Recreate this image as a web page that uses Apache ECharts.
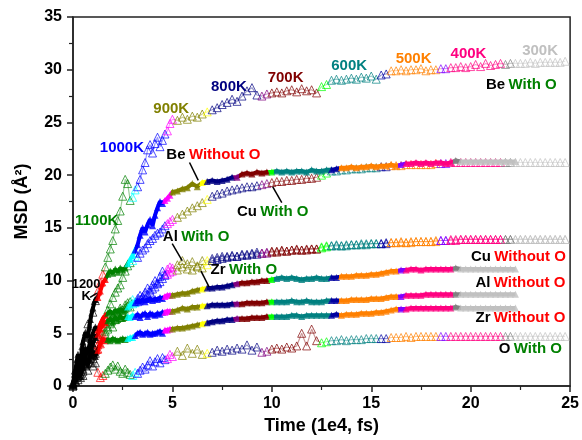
<!DOCTYPE html>
<html>
<head>
<meta charset="utf-8">
<script src="https://cdn.jsdelivr.net/npm/echarts@6/dist/echarts.min.js"></script>
<style>
  html, body { margin: 0; padding: 0; background: #ffffff; }
  #chart { width: 582px; height: 440px; }
</style>
</head>
<body>
<div id="chart"></div>
<script>
// Sampling times (1e4 fs): fine steps during the hot stages, coarser afterwards
const timesEarly = [0, 0.125, 0.25, 0.375, 0.5, 0.625, 0.75, 0.875, 1, 1.125,
  1.25, 1.375, 1.5, 1.625, 1.75, 1.875, 2, 2.125, 2.25, 2.375,
  2.5, 2.625, 2.75, 2.875, 3, 3.125, 3.25, 3.375, 3.5, 3.625,
  3.75, 3.875, 4, 4.125, 4.25, 4.375, 4.5, 4.625, 4.75, 4.875];
const timesLate = [5, 5.25, 5.5, 5.75, 6, 6.25, 6.5, 6.75, 7, 7.25,
  7.5, 7.75, 8, 8.25, 8.5, 8.75, 9, 9.25, 9.5, 9.75,
  10, 10.25, 10.5, 10.75, 11, 11.25, 11.5, 11.75, 12, 12.25,
  12.5, 12.75, 13, 13.25, 13.5, 13.75, 14, 14.25, 14.5, 14.75,
  15, 15.25, 15.5, 15.75, 16, 16.25, 16.5, 16.75, 17, 17.25,
  17.5, 17.75, 18, 18.25, 18.5, 18.75, 19, 19.25, 19.5, 19.75,
  20, 20.25, 20.5, 20.75, 21, 21.25, 21.5, 21.75, 22, 22.25,
  22.5, 22.75, 23, 23.25, 23.5, 23.75, 24, 24.25, 24.5, 24.75];

// Stage colours: temperature holds (1200K ... 300K) alternating with the ramps between them
const stageColors = ['#000000', '#FF0000', '#008000', '#00FFFF', '#0000FF', '#FF00FF',
  '#808000', '#FFFF00', '#000080', '#800080', '#800000', '#00FF00', '#008080', '#0000A0',
  '#FF8000', '#8000FF', '#FF0080', '#808080', '#C0C0C0'];
// Time at which each stage ends (the last stage runs to the end)
const stageEndsWithO = [1.25, 1.6, 2.9, 3.25, 4.75, 5.1, 6.55, 6.9, 9.5, 9.85,
  12.35, 12.8, 15.4, 15.85, 18.5, 18.85, 21.75, 22.1];
const stageEndsWithoutO = [1.25, 1.65, 2.75, 3.1, 4.55, 4.95, 6.4, 6.75, 8.05, 8.35,
  9.8, 10.1, 13.0, 13.4, 16.35, 16.75, 19.1, 19.5];

// MSD (Å²) — samples with O
const beWithOEarly = [0.2, 1.5, 2.6, 2.0, 3.8, 4.6, 5.9, 5.2, 7.0, 8.1,
  9.0, 9.8, 10.6, 11.3, 12.2, 13.0, 13.8, 14.9, 15.7, 16.6,
  18.0, 19.6, 19.2, 17.6, 17.9, 18.6, 18.9, 19.6, 20.5, 21.2,
  22.4, 22.9, 22.1, 23.0, 23.6, 22.7, 23.3, 23.9, 24.2, 24.9];
const beWithOLate = [25.3, 25.2, 25.5, 25.3, 25.6, 25.5, 25.8, 26.0, 26.2, 26.4,
  26.7, 26.9, 27.2, 27.0, 27.5, 28.0, 28.3, 27.6, 27.5, 27.7,
  27.8, 27.9, 27.8, 28.0, 28.1, 27.9, 28.2, 28.0, 28.1, 27.8,
  28.4, 28.6, 29.0, 29.1, 29.0, 29.1, 29.2, 29.1, 29.3, 29.2,
  29.4, 29.1, 29.5, 29.6, 29.9, 29.9, 30.0, 29.9, 30.0, 30.0,
  30.1, 29.9, 30.0, 30.0, 30.1, 30.1, 30.2, 30.2, 30.3, 30.2,
  30.3, 30.5, 30.3, 30.6, 30.4, 30.5, 30.6, 30.5, 30.6, 30.6,
  30.6, 30.6, 30.7, 30.6, 30.7, 30.7, 30.7, 30.7, 30.7, 30.8];

const cuWithOEarly = [0.1, 0.8, 1.4, 1.1, 2.2, 2.6, 3.3, 2.9, 3.9, 4.5,
  4.9, 5.6, 6.2, 6.5, 7.2, 7.8, 8.4, 8.9, 9.3, 9.6,
  10.3, 10.9, 11.4, 11.7, 11.9, 12.3, 12.2, 12.6, 12.9, 13.1,
  13.5, 13.8, 14.0, 14.3, 14.5, 14.6, 14.9, 15.2, 15.4, 15.6];
const cuWithOLate = [15.8, 16.0, 16.3, 16.6, 16.9, 17.1, 17.4, 17.7, 18.0, 18.2,
  18.3, 18.5, 18.6, 18.7, 18.8, 18.9, 18.9, 19.0, 19.1, 19.2,
  19.3, 19.4, 19.4, 19.5, 19.5, 19.6, 19.6, 19.7, 19.7, 19.8,
  20.0, 20.2, 20.4, 20.4, 20.5, 20.5, 20.6, 20.6, 20.6, 20.7,
  20.7, 20.7, 20.8, 20.8, 20.9, 20.9, 20.9, 21.0, 21.0, 21.0,
  21.0, 21.0, 21.0, 21.1, 21.1, 21.1, 21.2, 21.2, 21.2, 21.2,
  21.2, 21.2, 21.2, 21.2, 21.2, 21.2, 21.2, 21.2, 21.2, 21.2,
  21.2, 21.2, 21.2, 21.2, 21.2, 21.2, 21.2, 21.2, 21.2, 21.2];

const alWithOEarly = [0.0, 0.5, 1.0, 0.8, 1.6, 2.1, 2.5, 2.2, 3.0, 3.4,
  3.9, 4.4, 4.9, 5.2, 5.6, 6.1, 6.6, 6.3, 7.0, 7.4,
  7.2, 7.7, 7.9, 8.0, 8.2, 8.0, 8.3, 8.6, 8.5, 8.9,
  9.3, 9.1, 9.6, 10.0, 9.8, 10.4, 10.9, 10.6, 11.1, 11.3];
const alWithOLate = [11.2, 11.5, 11.9, 11.6, 11.8, 11.4, 11.9, 11.9, 12.1, 12.2,
  12.3, 12.3, 12.4, 12.3, 12.5, 12.5, 12.6, 12.7, 12.6, 12.7,
  12.8, 12.8, 12.9, 12.8, 12.9, 13.0, 12.9, 13.0, 13.0, 13.0,
  13.2, 13.3, 13.3, 13.4, 13.3, 13.4, 13.4, 13.4, 13.5, 13.5,
  13.5, 13.5, 13.5, 13.6, 13.6, 13.6, 13.7, 13.6, 13.7, 13.7,
  13.7, 13.7, 13.7, 13.8, 13.8, 13.8, 13.9, 13.9, 13.9, 13.9,
  13.9, 13.9, 13.9, 13.9, 13.9, 13.9, 13.9, 13.9, 13.9, 13.9,
  13.9, 13.9, 13.9, 13.9, 13.9, 13.9, 13.9, 13.9, 13.9, 13.9];

const zrWithOEarly = [0.0, 0.4, 0.9, 1.2, 1.4, 1.9, 2.3, 2.7, 2.6, 3.1,
  3.5, 4.0, 4.6, 4.9, 5.4, 5.9, 5.6, 6.3, 6.8, 6.5,
  7.0, 7.4, 7.6, 7.5, 7.8, 7.9, 8.0, 8.2, 8.4, 8.3,
  8.7, 8.9, 9.2, 9.4, 9.7, 9.9, 10.2, 10.5, 10.6, 10.8];
const zrWithOLate = [10.9, 11.0, 11.3, 11.1, 11.0, 11.3, 11.2, 11.5, 11.9, 12.0,
  12.1, 12.2, 12.3, 12.3, 12.4, 12.4, 12.5, 12.5, 12.6, 12.6,
  12.7, 12.7, 12.8, 12.8, 12.9, 12.9, 12.9, 12.9, 13.0, 13.0,
  13.1, 13.2, 13.3, 13.3, 13.3, 13.3, 13.4, 13.4, 13.4, 13.4,
  13.5, 13.5, 13.5, 13.5, 13.6, 13.6, 13.6, 13.6, 13.6, 13.7,
  13.7, 13.7, 13.7, 13.7, 13.8, 13.8, 13.8, 13.8, 13.9, 13.9,
  13.9, 13.9, 13.9, 13.9, 13.9, 13.9, 13.9, 13.9, 13.9, 13.9,
  13.9, 13.9, 13.9, 13.9, 13.9, 13.9, 13.9, 13.9, 13.9, 13.9];

const oWithOEarly = [0.3, 1.2, 0.6, 1.8, 1.0, 2.4, 1.5, 2.8, 1.9, 2.2,
  1.3, 0.8, 1.0, 1.2, 1.5, 1.8, 2.0, 1.6, 1.9, 1.4,
  1.2, 1.6, 1.3, 1.1, 1.0, 1.3, 1.2, 1.5, 1.8, 1.6,
  2.0, 2.4, 1.9, 2.3, 2.6, 2.2, 2.7, 2.5, 2.6, 3.0];
const oWithOLate = [2.8, 3.3, 2.9, 3.6, 3.1, 3.5, 3.0, 3.1, 3.2, 3.4,
  3.3, 3.5, 3.4, 3.6, 3.5, 3.9, 3.4, 3.7, 3.2, 3.3,
  3.5, 3.6, 3.5, 3.7, 3.6, 3.8, 5.0, 3.8, 5.4, 4.3,
  4.1, 4.2, 4.3, 4.3, 4.4, 4.3, 4.4, 4.4, 4.4, 4.5,
  4.5, 4.5, 4.5, 4.5, 4.6, 4.6, 4.6, 4.7, 4.6, 4.7,
  4.7, 4.7, 4.7, 4.7, 4.7, 4.7, 4.7, 4.7, 4.7, 4.7,
  4.7, 4.7, 4.7, 4.7, 4.7, 4.7, 4.7, 4.7, 4.7, 4.7,
  4.7, 4.7, 4.7, 4.7, 4.7, 4.7, 4.7, 4.7, 4.7, 4.7];

// MSD (Å²) — samples without O (runs end at 22.25)
const beWithoutOEarly = [0.3, 1.6, 3.0, 2.4, 4.2, 5.1, 4.6, 6.3, 7.4, 8.2,
  8.4, 9.0, 9.8, 10.1, 10.6, 10.9, 10.7, 11.1, 10.8, 11.2,
  11.0, 11.2, 11.6, 12.0, 12.4, 12.9, 13.4, 14.3, 15.0, 14.6,
  15.3, 15.8, 15.2, 16.2, 16.9, 17.5, 17.3, 17.6, 17.8, 18.1];
const beWithoutOLate = [18.4, 18.5, 18.7, 18.8, 19.2, 18.9, 19.3, 19.4, 19.5, 19.4,
  19.5, 19.6, 19.8, 19.8, 20.1, 20.2, 20.1, 20.3, 20.2, 20.3,
  20.3, 20.4, 20.3, 20.4, 20.3, 20.4, 20.4, 20.3, 20.5, 20.4,
  20.4, 20.5, 20.5, 20.6, 20.7, 20.7, 20.8, 20.7, 20.8, 20.8,
  20.9, 20.8, 20.9, 20.9, 21.0, 20.9, 21.0, 21.1, 21.1, 21.2,
  21.1, 21.2, 21.1, 21.2, 21.2, 21.1, 21.2, 21.4, 21.3, 21.3,
  21.3, 21.3, 21.3, 21.3, 21.3, 21.3, 21.3, 21.3, 21.3, 21.3];

const cuWithoutOEarly = [0.2, 1.1, 2.2, 1.7, 3.0, 3.6, 3.2, 4.4, 5.0, 5.6,
  5.3, 5.9, 6.4, 6.7, 6.9, 7.1, 6.8, 7.2, 7.0, 7.3,
  7.1, 7.2, 7.5, 7.7, 7.9, 7.9, 8.1, 8.0, 8.2, 8.0,
  8.2, 8.3, 8.1, 8.3, 8.2, 8.4, 8.3, 8.5, 8.6, 8.6];
const cuWithoutOLate = [8.6, 8.7, 8.8, 8.8, 9.0, 9.1, 9.2, 9.3, 9.3, 9.4,
  9.4, 9.5, 9.6, 9.7, 9.8, 9.8, 9.9, 9.9, 10.0, 10.0,
  10.1, 10.2, 10.3, 10.2, 10.3, 10.2, 10.1, 10.2, 10.2, 10.3,
  10.2, 10.2, 10.3, 10.3, 10.4, 10.4, 10.4, 10.5, 10.5, 10.5,
  10.6, 10.6, 10.7, 10.8, 10.9, 10.9, 11.0, 11.0, 11.1, 11.1,
  11.0, 11.1, 11.1, 11.1, 11.1, 11.1, 11.1, 11.2, 11.1, 11.1,
  11.1, 11.1, 11.1, 11.1, 11.1, 11.1, 11.1, 11.1, 11.1, 11.1];

const alWithoutOEarly = [0.1, 0.8, 1.5, 2.3, 1.9, 2.8, 3.5, 3.1, 4.0, 4.6,
  4.9, 5.4, 5.8, 6.0, 6.2, 6.4, 6.1, 6.5, 6.3, 6.6,
  6.4, 6.5, 6.6, 6.5, 6.7, 6.6, 6.8, 6.5, 6.8, 6.9,
  6.6, 6.9, 6.8, 6.7, 6.9, 6.8, 7.0, 7.0, 7.1, 7.1];
const alWithoutOLate = [7.1, 7.2, 7.4, 7.3, 7.5, 7.5, 7.6, 7.6, 7.7, 7.7,
  7.7, 7.7, 7.8, 7.8, 7.8, 7.9, 7.9, 7.9, 7.9, 8.0,
  8.0, 8.0, 8.0, 8.0, 8.1, 8.0, 8.0, 8.1, 8.0, 8.0,
  8.0, 8.1, 8.1, 8.1, 8.1, 8.1, 8.2, 8.2, 8.2, 8.2,
  8.3, 8.3, 8.3, 8.4, 8.5, 8.5, 8.5, 8.6, 8.6, 8.6,
  8.6, 8.7, 8.7, 8.7, 8.7, 8.7, 8.7, 8.7, 8.7, 8.7,
  8.7, 8.7, 8.7, 8.7, 8.7, 8.7, 8.7, 8.7, 8.7, 8.7];

const zrWithoutOEarly = [0.0, 0.5, 1.2, 0.9, 1.8, 2.4, 2.0, 2.9, 3.3, 2.8,
  3.4, 4.0, 4.5, 4.3, 4.4, 4.3, 4.5, 4.4, 4.3, 4.4,
  4.5, 4.4, 4.5, 4.6, 4.6, 4.8, 5.0, 5.1, 4.9, 5.0,
  5.1, 4.9, 5.0, 5.0, 5.1, 5.2, 5.0, 5.3, 5.3, 5.4];
const zrWithoutOLate = [5.4, 5.5, 5.5, 5.6, 5.7, 5.8, 5.9, 6.0, 6.1, 6.2,
  6.2, 6.3, 6.3, 6.4, 6.4, 6.4, 6.5, 6.5, 6.5, 6.6,
  6.6, 6.6, 6.6, 6.6, 6.7, 6.7, 6.6, 6.7, 6.7, 6.7,
  6.7, 6.7, 6.7, 6.8, 6.7, 6.8, 6.8, 6.8, 6.9, 6.9,
  6.9, 7.0, 7.0, 7.1, 7.2, 7.3, 7.3, 7.3, 7.4, 7.4,
  7.4, 7.4, 7.4, 7.4, 7.4, 7.4, 7.4, 7.5, 7.4, 7.4,
  7.4, 7.4, 7.4, 7.4, 7.4, 7.4, 7.4, 7.4, 7.4, 7.4];

// Temperature tags along the Be-with-O run: [text, colour, time, MSD]
const tempLabels = [
  ['1100K', '#008000', 1.19, 15.7],
  ['1000K', '#0000FF', 2.46, 22.55],
  ['900K', '#808000', 4.94, 26.33],
  ['800K', '#000080', 7.84, 28.36],
  ['700K', '#800000', 10.69, 29.26],
  ['600K', '#008080', 13.89, 30.4],
  ['500K', '#FF8000', 17.13, 31.06],
  ['400K', '#FF0080', 19.89, 31.54],
  ['300K', '#C0C0C0', 23.49, 31.82]
];
// Curve names: [element, condition, time, MSD]
const curveLabels = [
  ['Be', 'With O', 22.55, 28.6],
  ['Be', 'Without O', 7.06, 21.88],
  ['Cu', 'With O', 10.04, 16.54],
  ['Al', 'With O', 6.19, 14.17],
  ['Zr', 'With O', 8.59, 11.0],
  ['Cu', 'Without O', 22.4, 12.23],
  ['Al', 'Without O', 22.5, 9.77],
  ['Zr', 'Without O', 22.5, 6.45],
  ['O', 'With O', 23.0, 3.53]
];
// Pointer arrows: [fromTime, fromMSD, toTime, toMSD]
const pointers = [
  [0.86, 8.4, 1.2, 8.8],
  [5.86, 21.2, 6.3, 19.5],
  [10.5, 17.4, 10.04, 18.9],
  [4.99, 13.5, 5.49, 11.9],
  [6.84, 9.4, 6.44, 10.9]
];

const FONT = 'Liberation Sans, Arial, sans-serif';

const curves = [
  { name: 'Be With O', early: beWithOEarly, late: beWithOLate, withO: true },
  { name: 'Cu With O', early: cuWithOEarly, late: cuWithOLate, withO: true },
  { name: 'Al With O', early: alWithOEarly, late: alWithOLate, withO: true },
  { name: 'Zr With O', early: zrWithOEarly, late: zrWithOLate, withO: true },
  { name: 'O With O', early: oWithOEarly, late: oWithOLate, withO: true },
  { name: 'Be Without O', early: beWithoutOEarly, late: beWithoutOLate, withO: false },
  { name: 'Cu Without O', early: cuWithoutOEarly, late: cuWithoutOLate, withO: false },
  { name: 'Al Without O', early: alWithoutOEarly, late: alWithoutOLate, withO: false },
  { name: 'Zr Without O', early: zrWithoutOEarly, late: zrWithoutOLate, withO: false }
];

function stageOf(t, ends) {
  let i = 0;
  while (i < ends.length && t >= ends[i]) i++;
  return i;
}

const allTimes = timesEarly.concat(timesLate);

function pointsOf(c) {
  return c.early.concat(c.late).map(function (v, i) { return [allTimes[i], v]; });
}

// Markers, coloured per stage
function markerSeries(c) {
  const ends = c.withO ? stageEndsWithO : stageEndsWithoutO;
  const data = pointsOf(c).map(function (p) {
    const col = stageColors[stageOf(p[0], ends)];
    return {
      value: p,
      itemStyle: c.withO
        ? { color: 'rgba(255,255,255,0)', borderColor: col, borderWidth: 1, opacity: 0.7 }
        : { color: col }
    };
  });
  return {
    name: c.name,
    type: 'scatter',
    symbol: 'triangle',
    symbolSize: c.withO ? 8 : 7,
    z: c.withO ? 3 : 5,
    silent: true,
    data: data
  };
}

// Connecting trace under the markers, coloured by the stage visual maps
function traceSeries(c) {
  return {
    name: c.name + ' trace',
    type: 'line',
    showSymbol: false,
    symbol: 'none',
    silent: true,
    z: c.withO ? 2 : 4,
    lineStyle: c.withO ? { width: 1.2, opacity: 0.4 } : { width: 4 },
    data: pointsOf(c)
  };
}

const series = [];
const traceWithO = [];
const traceWithoutO = [];
curves.forEach(function (c) {
  (c.withO ? traceWithO : traceWithoutO).push(series.length);
  series.push(traceSeries(c));
  series.push(markerSeries(c));
});

function stagePieces(ends) {
  const pieces = [];
  for (let i = 0; i <= ends.length; i++) {
    const p = { color: stageColors[i] };
    if (i > 0) p.gte = ends[i - 1];
    if (i < ends.length) p.lt = ends[i];
    pieces.push(p);
  }
  return pieces;
}

const markPoints = [];
tempLabels.forEach(function (l) {
  markPoints.push({
    coord: [l[2], l[3]],
    label: { formatter: l[0], color: l[1], fontSize: 15, fontWeight: 'bold', fontFamily: FONT }
  });
});
curveLabels.forEach(function (l) {
  const key = l[1] === 'With O' ? 'g' : 'r';
  markPoints.push({
    coord: [l[2], l[3]],
    label: {
      formatter: '{k|' + l[0] + '} {' + key + '|' + l[1] + '}',
      rich: {
        k: { color: '#000000', fontSize: 15, fontWeight: 'bold', fontFamily: FONT },
        g: { color: '#008000', fontSize: 15, fontWeight: 'bold', fontFamily: FONT },
        r: { color: '#FF0000', fontSize: 15, fontWeight: 'bold', fontFamily: FONT }
      }
    }
  });
});
markPoints.push({
  coord: [0.66, 9.1],
  label: { formatter: '1200\nK', color: '#000000', fontSize: 13, lineHeight: 12, fontWeight: 'bold', fontFamily: FONT }
});

series.push({
  name: 'notes',
  type: 'scatter',
  data: [],
  silent: true,
  z: 10,
  markPoint: {
    symbol: 'circle',
    symbolSize: 1,
    itemStyle: { color: 'rgba(0,0,0,0)' },
    label: { show: true, position: 'inside' },
    data: markPoints,
    z: 10
  },
  markLine: {
    symbol: ['none', 'arrow'],
    symbolSize: [0, 12],
    lineStyle: { color: '#000000', width: 1.5, type: 'solid' },
    label: { show: false },
    data: pointers.map(function (p) {
      return [{ coord: [p[0], p[1]] }, { coord: [p[2], p[3]] }];
    }),
    z: 10
  }
});

const chart = echarts.init(document.getElementById('chart'), null, { renderer: 'canvas' });
chart.setOption({
  animation: false,
  backgroundColor: '#ffffff',
  visualMap: [
    { type: 'piecewise', show: false, dimension: 0, seriesIndex: traceWithO, pieces: stagePieces(stageEndsWithO) },
    { type: 'piecewise', show: false, dimension: 0, seriesIndex: traceWithoutO, pieces: stagePieces(stageEndsWithoutO) }
  ],
  grid: {
    left: 73, right: 10, top: 17, bottom: 53,
    show: true, borderColor: '#222222', borderWidth: 1.5, backgroundColor: 'transparent'
  },
  xAxis: {
    type: 'value', min: 0, max: 25, interval: 5,
    name: 'Time (1e4, fs)', nameLocation: 'middle', nameGap: 31,
    nameTextStyle: { fontSize: 18, fontWeight: 'bold', color: '#000', fontFamily: FONT },
    axisLine: { show: true, onZero: false, lineStyle: { color: '#222222', width: 1.5 } },
    axisTick: { show: true, inside: false, length: 6, lineStyle: { color: '#222222', width: 1.5 } },
    minorTick: { show: true, splitNumber: 2, length: 4, lineStyle: { color: '#222222', width: 1.2 } },
    axisLabel: { fontSize: 16, fontWeight: 'bold', color: '#000', fontFamily: FONT, margin: 10 },
    splitLine: { show: false }
  },
  yAxis: {
    type: 'value', min: 0, max: 35, interval: 5,
    name: 'MSD (Å²)', nameLocation: 'middle', nameGap: 42,
    nameTextStyle: { fontSize: 18, fontWeight: 'bold', color: '#000', fontFamily: FONT },
    axisLine: { show: true, onZero: false, lineStyle: { color: '#222222', width: 1.5 } },
    axisTick: { show: true, inside: false, length: 6, lineStyle: { color: '#222222', width: 1.5 } },
    minorTick: { show: true, splitNumber: 2, length: 4, lineStyle: { color: '#222222', width: 1.2 } },
    axisLabel: { fontSize: 16, fontWeight: 'bold', color: '#000', fontFamily: FONT, margin: 11 },
    splitLine: { show: false }
  },
  series: series
});
</script>
</body>
</html>
